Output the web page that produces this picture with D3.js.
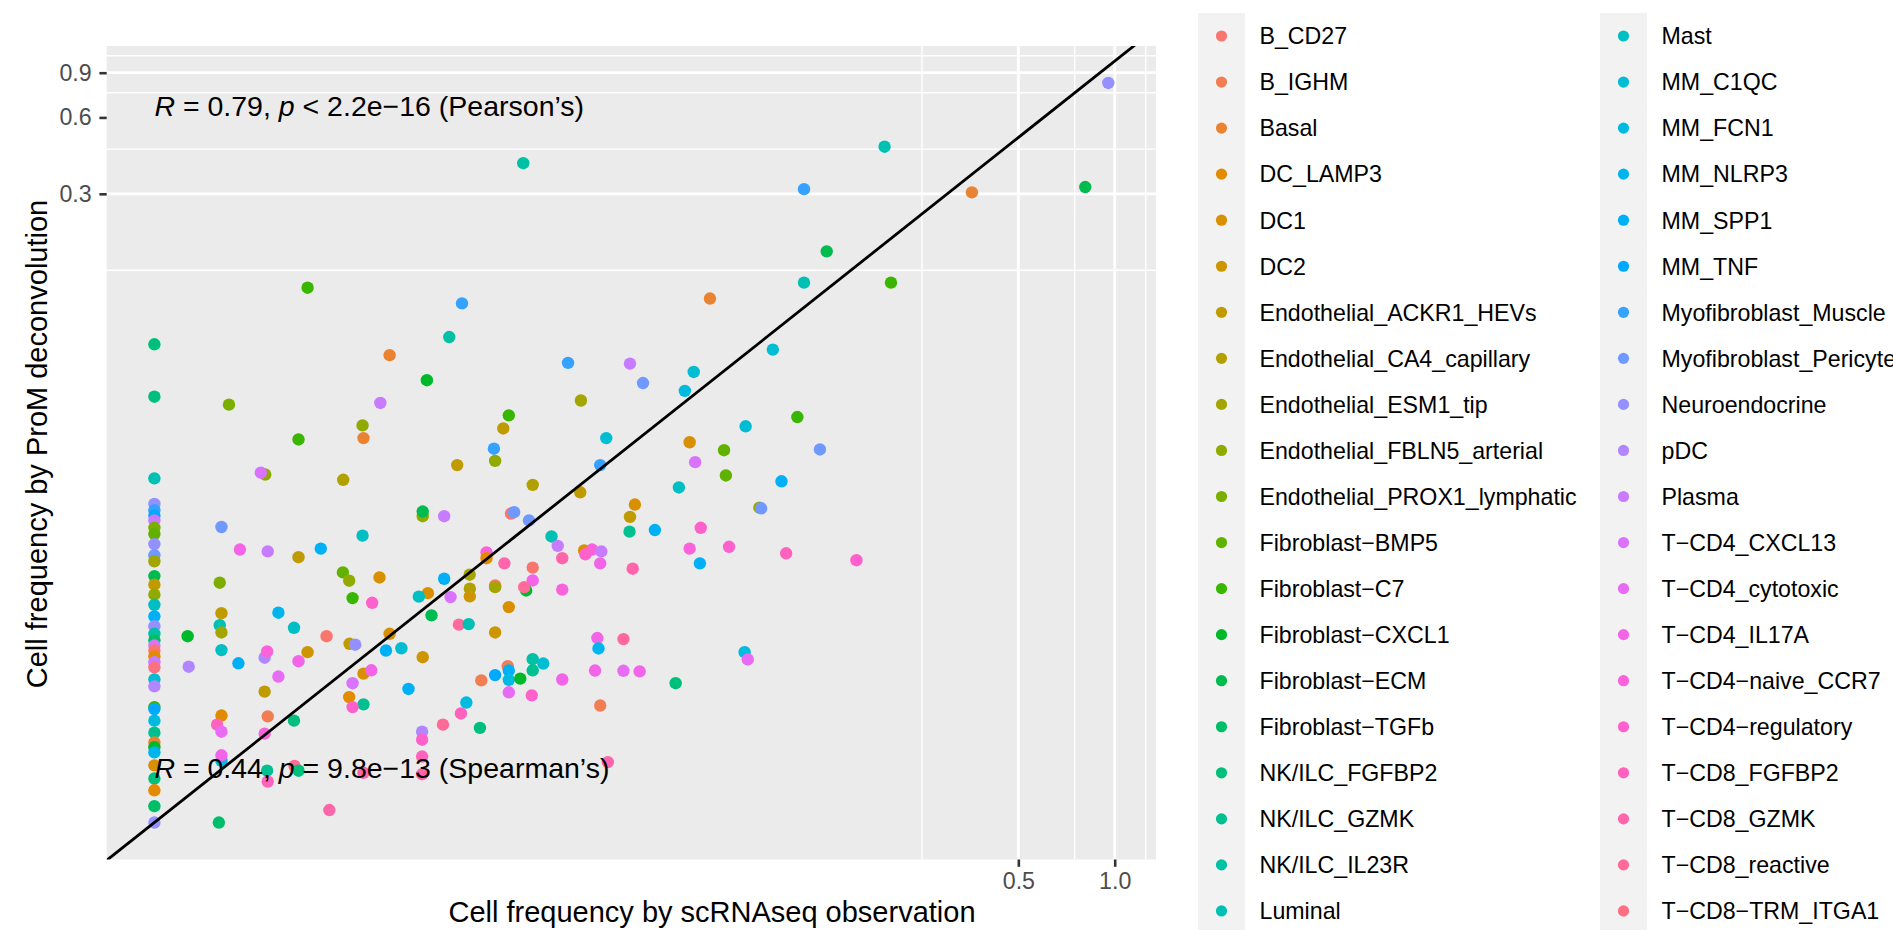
<!DOCTYPE html>
<html>
<head>
<meta charset="utf-8">
<script src="https://cdn.jsdelivr.net/npm/d3@7"></script>
<style>
  body { margin: 0; background: #fff; }
  svg { display: block; }
  text { font-family: "Liberation Sans", Arial, sans-serif; }
</style>
</head>
<body>
<div id="chart"></div>
<script>
// cell types, in legend order (ggplot hue palette over 40 levels)
var cellTypes = ["B_CD27", "B_IGHM", "Basal", "DC_LAMP3", "DC1", "DC2",
  "Endothelial_ACKR1_HEVs", "Endothelial_CA4_capillary", "Endothelial_ESM1_tip",
  "Endothelial_FBLN5_arterial", "Endothelial_PROX1_lymphatic", "Fibroblast\u2212BMP5",
  "Fibroblast\u2212C7", "Fibroblast\u2212CXCL1", "Fibroblast\u2212ECM", "Fibroblast\u2212TGFb",
  "NK/ILC_FGFBP2", "NK/ILC_GZMK", "NK/ILC_IL23R", "Luminal",
  "Mast", "MM_C1QC", "MM_FCN1", "MM_NLRP3", "MM_SPP1", "MM_TNF",
  "Myofibroblast_Muscle", "Myofibroblast_Pericyte", "Neuroendocrine", "pDC", "Plasma",
  "T\u2212CD4_CXCL13", "T\u2212CD4_cytotoxic", "T\u2212CD4_IL17A", "T\u2212CD4\u2212naive_CCR7",
  "T\u2212CD4\u2212regulatory", "T\u2212CD8_FGFBP2", "T\u2212CD8_GZMK", "T\u2212CD8_reactive",
  "T\u2212CD8\u2212TRM_ITGA1"];

// points with a scRNAseq frequency (index into cellTypes, observed, ProM estimate)
var cellIdx = [
  12,10,2,13,30,9,2,12,18,18, 26,26,30,27,2,19,21,21,22,8,
  12,6,26,9,21,4,11,12,31,26, 6,21,19,26,2,14,28,14,12,27,
  35,
  7,6,11,24,20,4,6,17,24,35, 8,27,0,27,27,19,30,37,4,34,
  30,35,33,37,34,35,36,24,34,3, 37,0,33,13,38,34,8,7,5,0,
  8,31,24,4,38,19,5,33,38,23, 22,32,18,17,21,1,24,22,25,13,
  1,33,33,32,33,16,32,35,22,36, 1,16,37,38,
  9,31,7,9,14,30,27,20,33,30, 24,6,11,9,4,10,12,35,4,20,
  6,23,20,19,8,13,0,14,6,28, 5,29,34,33,20,24,29,32,6,24,
  21,5,4,4,33,31,3,17,35,24, 29,35,36,37,37,38,16,17,36,22,
  33,3,36,32,1,16,34,37,15
];
var scFreq = [
  0.00301,0.00171,0.00543,0.0071,0.00508,0.00447,0.0045,0.00282,0.00834,0.0142,
  0.00914,0.0196,0.0306,0.0336,0.0544,0.107,0.0855,0.0484,0.0454,0.0215,
  0.0128,0.0123,0.0115,0.0116,0.0703,0.047,0.0602,0.102,0.0489,0.0247,
  0.00883,0.0258,0.191,0.107,0.358,0.809,0.955,0.126,0.2,0.12,
  0.156,
  0.0152,0.0214,0.061,0.091,0.0435,0.0317,0.0306,0.0305,0.0366,0.0509,
  0.0776,0.0786,0.013,0.0133,0.0148,0.0174,0.0182,0.0188,0.022,0.0233,
  0.0249,0.0222,0.0247,0.0312,0.047,0.0624,0.0941,0.0506,0.0109,0.0109,
  0.0124,0.0152,0.0152,0.0145,0.0143,0.0188,0.00966,0.00967,0.00967,0.0116,
  0.0116,0.00842,0.00804,0.0128,0.00894,0.00959,0.0116,0.0242,0.0292,0.0244,
  0.0698,0.0714,0.0152,0.0152,0.0164,0.0127,0.0128,0.0128,0.0116,0.0139,
  0.0105,0.0188,0.0238,0.0292,0.0328,0.0425,0.0128,0.0151,0.00943,0.00907,
  0.0247,0.0104,0.0261,0.00797,
  0.00222,0.00215,0.00389,0.00689,0.00689,0.00804,0.00162,0.00447,0.00185,0.00226,
  0.00331,0.00282,0.00388,0.00406,0.00505,0.0016,0.00416,0.00479,0.00715,0.0067,
  0.00162,0.00244,0.00273,0.0016,0.00162,0.00127,0.00345,0.00734,0.00407,0.00424,
  0.00301,0.00221,0.00225,0.00282,0.00162,0.00183,0.00128,0.00244,0.00221,0.00529,
  0.00591,0.00689,0.00543,0.0045,0.00476,0.00416,0.00406,0.0045,0.00416,0.00622,
  0.00686,0.00686,0.00686,0.00686,0.0045,0.00274,0.00282,0.00225,0.00226,0.00162,
  0.00162,0.00162,0.00157,0.00162,0.00226,0.00273,0.00221,0.00352,0.00159
];
var promFreq = [
  0.128,0.0443,0.0694,0.0553,0.045,0.0367,0.0327,0.0323,0.0818,0.396,
  0.111,0.0647,0.0643,0.0539,0.116,0.134,0.073,0.0596,0.0502,0.046,
  0.0402,0.0357,0.0297,0.0266,0.0364,0.0315,0.0293,0.0396,0.0263,0.0256,
  0.0256,0.0327,0.46,0.313,0.304,0.319,0.82,0.178,0.134,0.0295,
  0.0108,
  0.0214,0.02,0.0233,0.0221,0.0209,0.0179,0.016,0.014,0.0142,0.0145,
  0.0174,0.0173,0.0165,0.0167,0.0155,0.0134,0.0123,0.011,0.0118,0.0119,
  0.0117,0.0114,0.0105,0.01,0.012,0.0122,0.0115,0.0105,0.0116,0.011,
  0.0105,0.0101,0.00899,0.00821,0.00846,0.00827,0.00947,0.00834,0.00778,0.0086,
  0.00846,0.00773,0.00913,0.00706,0.00602,0.00605,0.00561,0.00533,0.00528,0.00485,
  0.00469,0.00439,0.0044,0.00398,0.00423,0.00413,0.00397,0.00365,0.00381,0.00369,
  0.00363,0.00366,0.00397,0.00396,0.00394,0.00354,0.00326,0.00317,0.00297,0.00269,
  0.00289,0.00236,0.00173,0.00243,
  0.0235,0.0239,0.0224,0.0161,0.0168,0.0161,0.0146,0.0135,0.0119,0.0117,
  0.012,0.0111,0.00967,0.00897,0.00924,0.00881,0.00766,0.00734,0.00801,0.00776,
  0.00668,0.00671,0.00585,0.00599,0.00561,0.00542,0.00542,0.00655,0.00506,0.00502,
  0.00469,0.00446,0.00472,0.00432,0.00478,0.00424,0.00411,0.00376,0.00328,0.00476,
  0.00486,0.00448,0.00554,0.00386,0.00398,0.00354,0.00312,0.00292,0.00285,0.00336,
  0.00228,0.00212,0.00182,0.00155,0.00157,0.00167,0.0016,0.0016,0.00145,0.00175,
  0.00184,0.00264,0.00243,0.00228,0.00262,0.00252,0.00224,0.00112,0.001
];

// cell types not seen in scRNAseq: plotted at the 0.001 floor
var zeroFloor = 0.001;
var zeroIdx = [16,16,19,28,26,25,30,10,11,28, 27,8,14,6,9,20,24,28,18,15,
  31,0,3,30,39,21,29,12,25,22, 17,2,13,23,4,16,3,15,28];
var zeroProm = [0.0766,0.0476,0.0227,0.018,0.017,0.0162,0.0155,0.0145,0.0137,0.0125,
  0.0113,0.0107,0.00935,0.00865,0.0079,0.00721,0.00649,0.00594,0.00554,0.00522,
  0.00498,0.00476,0.00451,0.00428,0.00409,0.00366,0.00344,0.00285,0.0028,0.00252,
  0.00226,0.00207,0.00198,0.00189,0.00168,0.00149,0.00134,0.00116,0.001];

var xBreaks = [0.5, 1.0];
var xMinor = [0.25, 0.75, 1.25];
var yBreaks = [0.3, 0.6, 0.9];
var yGrid = [0.3, 0.9];
var yMinor = [0.15, 0.45, 0.75, 1.05];

var corLabels = [
  {r: "0.79", p: " < 2.2e\u221216", method: "(Pearson\u2019s)", x: 0.001, y: 0.61},
  {r: "0.44", p: " = 9.8e\u221213", method: "(Spearman\u2019s)", x: 0.001, y: 0.0015}
];

// R's hcl() (polar LUV) -> hex, as used by ggplot's hue palette
function hcl(h, c, l) {
  var hr = h * Math.PI / 180;
  var U = c * Math.cos(hr), V = c * Math.sin(hr);
  var Y = (l > 7.999592) ? Math.pow((l + 16) / 116, 3) : l / 903.3;
  var u = U / (13 * l) + 0.1978398;
  var v = V / (13 * l) + 0.4683363;
  var X = 9 * Y * u / (4 * v);
  var Z = -X / 3 - 5 * Y + 3 * Y / v;
  function g(t) {
    t = t > 0.00304 ? 1.055 * Math.pow(t, 1 / 2.4) - 0.055 : 12.92 * t;
    return Math.round(255 * Math.max(0, Math.min(1, t)));
  }
  return d3.rgb(g(3.240479 * X - 1.537150 * Y - 0.498535 * Z),
                g(-0.969256 * X + 1.875992 * Y + 0.041556 * Z),
                g(0.055648 * X - 0.204043 * Y + 1.057311 * Z)).formatHex();
}
var n = cellTypes.length;
var palette = cellTypes.map(function(d, i) { return hcl(15 + 360 * i / n, 100, 65); });

var svgWidth = 1893, svgHeight = 930;
var panel = {left: 106.7, right: 1156, top: 46, bottom: 859.5};

var svg = d3.select("#chart").append("svg")
  .attr("width", svgWidth)
  .attr("height", svgHeight);

svg.append("rect").attr("width", svgWidth).attr("height", svgHeight).attr("fill", "#fff");

// log scales with ggplot's 5% expansion
function expandLog(ext) {
  var a = Math.log10(ext[0]), b = Math.log10(ext[1]);
  var pad = (b - a) * 0.05;
  return [Math.pow(10, a - pad), Math.pow(10, b + pad)];
}
var allX = scFreq.concat([zeroFloor]);
var allY = promFreq.concat(zeroProm);
var x = d3.scaleLog().domain(expandLog(d3.extent(allX))).range([panel.left, panel.right]);
var y = d3.scaleLog().domain(expandLog(d3.extent(allY))).range([panel.bottom, panel.top]);

svg.append("rect")
  .attr("x", panel.left).attr("y", panel.top)
  .attr("width", panel.right - panel.left).attr("height", panel.bottom - panel.top)
  .attr("fill", "#EBEBEB");

svg.append("clipPath").attr("id", "clip").append("rect")
  .attr("x", panel.left).attr("y", panel.top)
  .attr("width", panel.right - panel.left).attr("height", panel.bottom - panel.top);

var grid = svg.append("g").attr("stroke", "#fff");
grid.selectAll(".ymin").data(yMinor).enter().append("line")
  .attr("x1", panel.left).attr("x2", panel.right)
  .attr("y1", d => y(d)).attr("y2", d => y(d)).attr("stroke-width", 1.4);
grid.selectAll(".xmin").data(xMinor).enter().append("line")
  .attr("y1", panel.top).attr("y2", panel.bottom)
  .attr("x1", d => x(d)).attr("x2", d => x(d)).attr("stroke-width", 1.4);
grid.selectAll(".ymaj").data(yGrid).enter().append("line")
  .attr("x1", panel.left).attr("x2", panel.right)
  .attr("y1", d => y(d)).attr("y2", d => y(d)).attr("stroke-width", 2.8);
grid.selectAll(".xmaj").data(xBreaks).enter().append("line")
  .attr("y1", panel.top).attr("y2", panel.bottom)
  .attr("x1", d => x(d)).attr("x2", d => x(d)).attr("stroke-width", 2.8);

// points
var plot = svg.append("g").attr("clip-path", "url(#clip)");
plot.selectAll(".pt").data(d3.range(scFreq.length)).enter().append("circle")
  .attr("cx", i => x(scFreq[i]))
  .attr("cy", i => y(promFreq[i]))
  .attr("r", 6.2)
  .attr("fill", i => palette[cellIdx[i]]);
plot.selectAll(".zp").data(d3.range(zeroProm.length)).enter().append("circle")
  .attr("cx", x(zeroFloor))
  .attr("cy", i => y(zeroProm[i]))
  .attr("r", 6.2)
  .attr("fill", i => palette[zeroIdx[i]]);

// identity line
var xd = x.domain();
plot.append("line")
  .attr("x1", x(xd[0])).attr("y1", y(xd[0]))
  .attr("x2", x(xd[1])).attr("y2", y(xd[1]))
  .attr("stroke", "#000").attr("stroke-width", 2.8);

// correlation labels
corLabels.forEach(function(c) {
  var t = svg.append("text")
    .attr("x", x(c.x)).attr("y", y(c.y))
    .attr("font-size", 28.5).attr("fill", "#000");
  t.append("tspan").attr("font-style", "italic").text("R");
  t.append("tspan").text(" = " + c.r + ", ");
  t.append("tspan").attr("font-style", "italic").text("p");
  t.append("tspan").text(c.p + " " + c.method);
});

// axes
var yAxis = svg.append("g")
  .attr("transform", `translate(${panel.left},0)`)
  .call(d3.axisLeft(y).tickValues(yBreaks).tickFormat(d3.format(".1f")).tickSize(7.3).tickPadding(7.7));
var xAxis = svg.append("g")
  .attr("transform", `translate(0,${panel.bottom})`)
  .call(d3.axisBottom(x).tickValues(xBreaks).tickFormat(d3.format(".1f")).tickSize(7.3).tickPadding(6));
[xAxis, yAxis].forEach(function(a) {
  a.select(".domain").remove();
  a.selectAll(".tick line").attr("stroke", "#333333").attr("stroke-width", 2.6);
  a.selectAll(".tick text").attr("fill", "#4D4D4D").attr("font-size", 23.2)
    .attr("font-family", "Liberation Sans, Arial, sans-serif");
});

svg.append("text")
  .attr("x", 712).attr("y", 921.5)
  .attr("text-anchor", "middle").attr("font-size", 29)
  .text("Cell frequency by scRNAseq observation");
svg.append("text")
  .attr("transform", "translate(46.5,444) rotate(-90)")
  .attr("text-anchor", "middle").attr("font-size", 29)
  .text("Cell frequency by ProM deconvolution");

// legend, two columns of 20
var perCol = 20, rowH = 46.05, colX = [1198, 1600];
var legend = svg.append("g");
var items = legend.selectAll(".item").data(cellTypes).enter().append("g")
  .attr("transform", (d, i) => `translate(${colX[Math.floor(i / perCol)]},${13 + (i % perCol) * rowH})`);
items.append("rect").attr("width", 47).attr("height", rowH + 0.5).attr("fill", "#F2F2F2");
items.append("circle").attr("cx", 23.5).attr("cy", 23).attr("r", 5.6)
  .attr("fill", (d, i) => palette[i]);
items.append("text").attr("x", 61.5).attr("y", 23).attr("dy", "0.36em")
  .attr("font-size", 23.2).attr("fill", "#000").text(d => d);
</script>
</body>
</html>
